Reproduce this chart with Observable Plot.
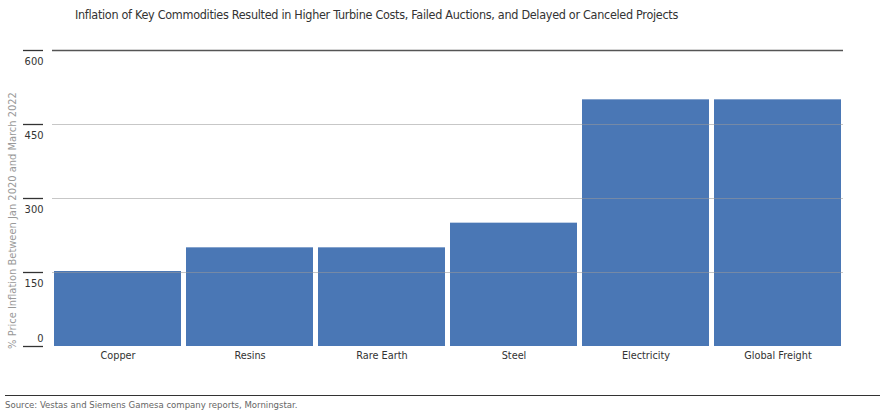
<!DOCTYPE html>
<html>
<head>
<meta charset="utf-8">
<script src="https://cdn.jsdelivr.net/npm/d3@7"></script>
<script src="https://cdn.jsdelivr.net/npm/@observablehq/plot@0.6"></script>
<style>
  body { margin: 0; background: #fff; font-family: "DejaVu Sans", sans-serif; font-stretch: condensed; }
  #title { height: 30px; box-sizing: border-box; padding: 7px 0 0 75px; font-size: 12.5px; letter-spacing: -0.3px; color: #333; font-stretch: condensed; }
  #source { margin: 0 15px 0 5px; border-top: 1.5px solid #333; padding-top: 3px; font-size: 9.5px; color: #666; font-stretch: condensed; }
  svg { display: block; }
  svg text { font-stretch: condensed; }
</style>
</head>
<body>
<div id="title">Inflation of Key Commodities Resulted in Higher Turbine Costs, Failed Auctions, and Delayed or Canceled Projects</div>
<div id="chart"></div>
<div id="source">Source: Vestas and Siemens Gamesa company reports, Morningstar.</div>
<script>
const categories = ["Copper", "Resins", "Rare Earth", "Steel", "Electricity", "Global Freight"];
const values = [152, 200, 200, 250, 500, 500];
const yTicks = [0, 150, 300, 450, 600];
const yLabel = "% Price Inflation Between Jan 2020 and March 2022";

const data = categories.map((c, i) => ({category: c, value: values[i]}));
const font = "'DejaVu Sans', sans-serif";

const chart = Plot.plot({
  width: 895,
  height: 365,
  marginTop: 20,
  marginBottom: 49,
  marginLeft: 52,
  marginRight: 52,
  style: {fontFamily: font, fontSize: "12px", color: "#333"},
  x: {domain: categories, paddingInner: 0.04, paddingOuter: 0, label: null},
  y: {domain: [0, 600], label: null},
  marks: [
    Plot.barY(data, {x: "category", y: "value", fill: "#4a77b5"}),
    Plot.ruleY(yTicks.filter(d => d > 0 && d < 600), {stroke: "#999", strokeOpacity: 0.55}),
    Plot.ruleY([600], {stroke: "#555", strokeWidth: 1.3}),
    Plot.axisY(yTicks, {tickSize: 20, dx: -9, tickFormat: () => "", stroke: "#333", strokeWidth: 1.3}),
    Plot.axisY(yTicks.filter(d => d > 0), {tickSize: 0, tickPadding: 0, dx: -9, dy: 11, fontSize: 11, fill: "#333"}),
    Plot.axisY([0], {tickSize: 0, tickPadding: 0, dx: -9, dy: -8, fontSize: 11, fill: "#333"}),
    Plot.axisX({tickSize: 0, tickPadding: 5, fontSize: 10.8, fill: "#333", label: null}),
    Plot.text([yLabel], {frameAnchor: "left", textAnchor: "middle", rotate: -90, dx: -40, dy: 22, fontSize: 11, fill: "#999", text: d => d})
  ]
});
document.getElementById("chart").appendChild(chart);
</script>
</body>
</html>
